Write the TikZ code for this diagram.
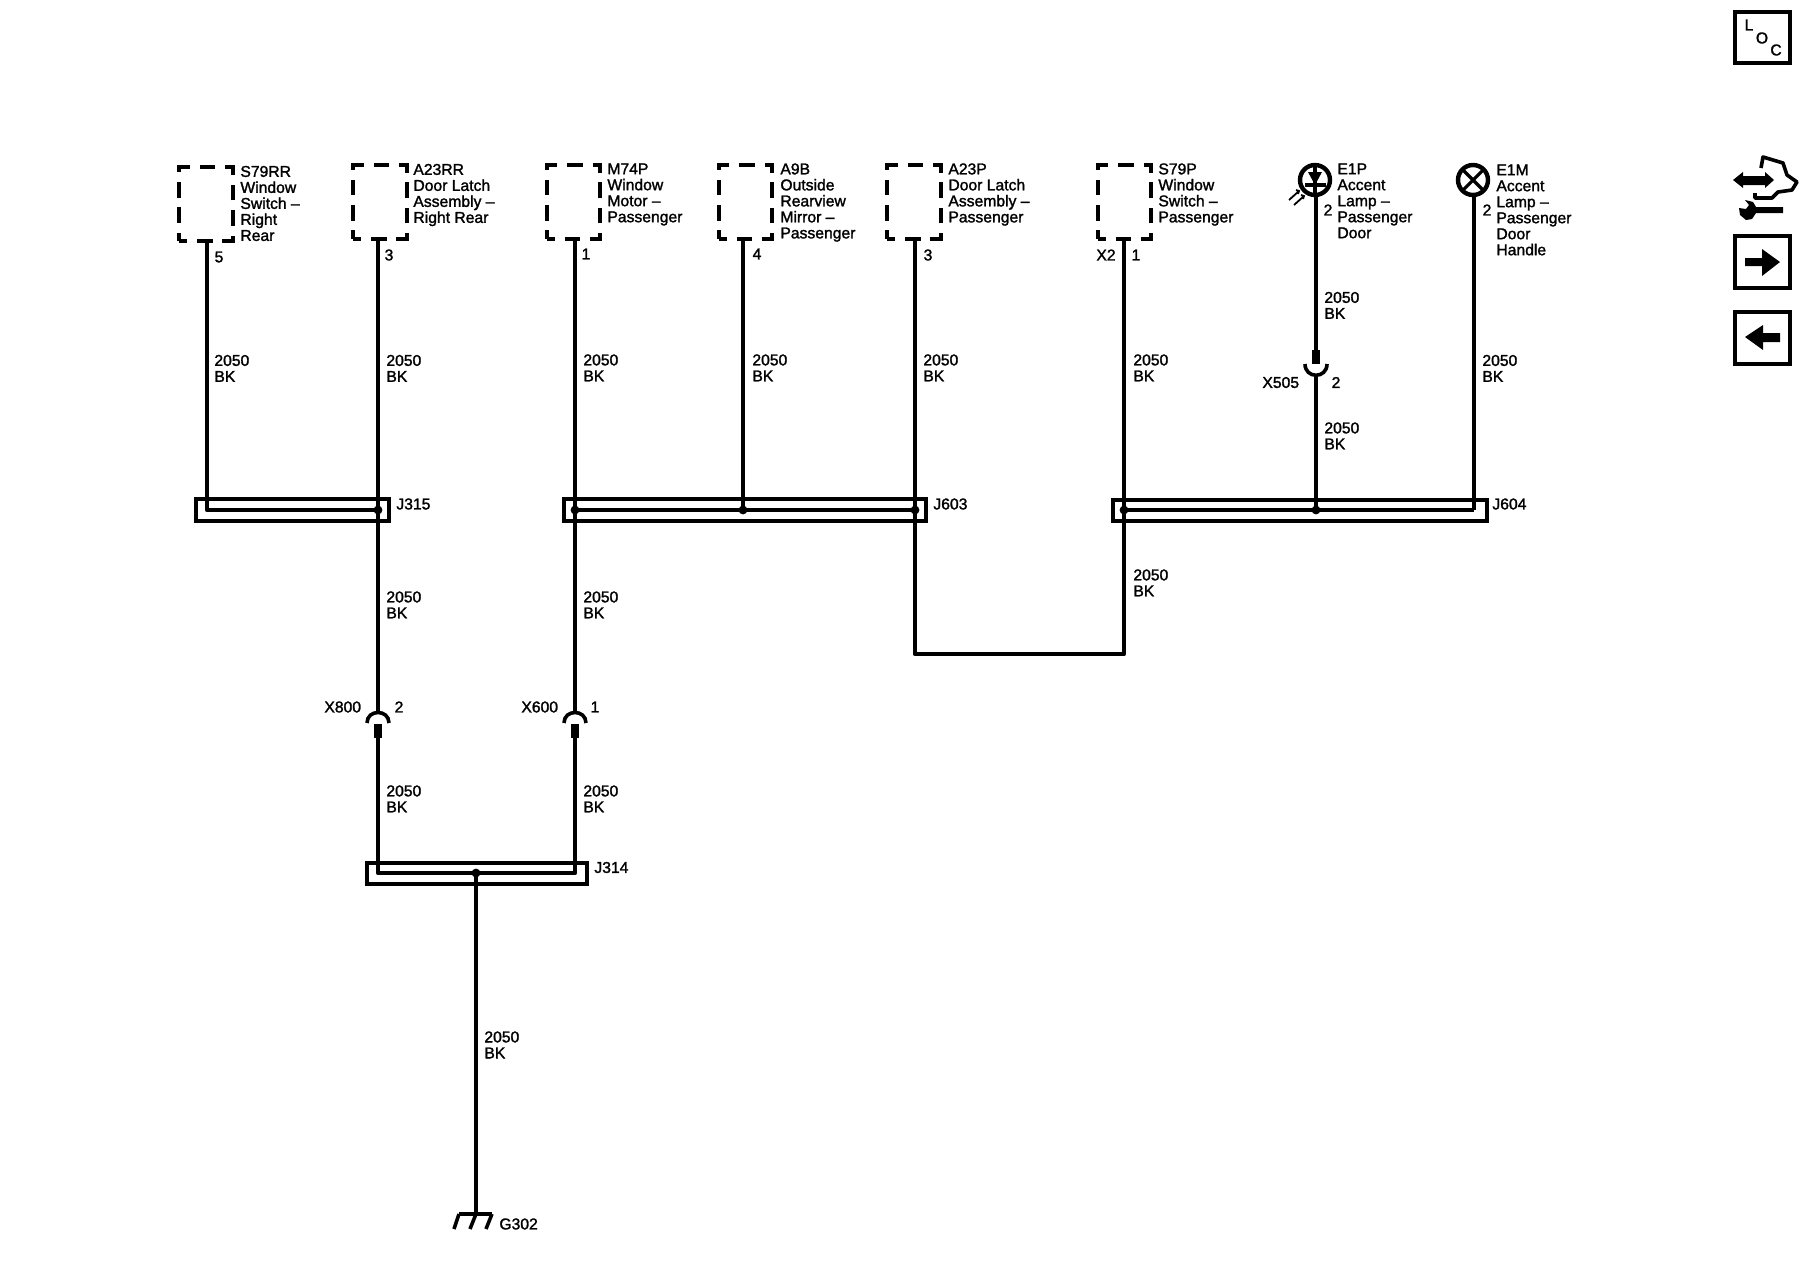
\documentclass[tikz,border=0pt]{standalone}
\usepackage{fontspec}
\setmainfont[FakeBold=1.6]{Liberation Sans}
\usetikzlibrary{positioning}
\tikzset{
	wire/.style={line width=2.1pt, line join=round},
	pinbar/.style={line width=4pt},
	comp/.style={draw, line width=2pt, dash pattern=on 7.8pt off 4.9pt, dash phase=3.9pt, minimum width=26.6pt, minimum height=37pt, inner sep=0pt, outer sep=0pt},
	splice/.style={draw, line width=2pt, minimum height=10.6pt, inner sep=0pt, outer sep=0pt},
	jdot/.style={circle, fill, minimum size=4.4pt, inner sep=0pt},
	lamp/.style={circle, draw, line width=2.2pt, minimum size=15pt, inner sep=0pt, outer sep=0pt},
	iconbox/.style={draw, line width=2pt, minimum width=27.5pt, minimum height=26pt, inner sep=0pt, outer sep=0pt},
	lbl/.style={font=\fontsize{7.85}{8}\selectfont, inner sep=0pt, align=left},
	multi/.style={lbl, anchor=north west},
	single/.style={lbl, anchor=west},
	pinnum/.style={lbl, anchor=center}
}
\begin{document}
\begin{tikzpicture}[x=0.5pt, y=-0.5pt]
	\useasboundingbox (0,0) rectangle (1800,1280);
	%% component boxes
	\node[comp] (s79rr) at (206,204) {};
	\node[comp] (a23rr) at (380,201.5) {};
	\node[comp] (m74p) at (573.5,201.5) {};
	\node[comp] (a9b) at (745.6,201.5) {};
	\node[comp] (a23p) at (914,201.5) {};
	\node[comp] (s79p) at (1124.5,201.5) {};
	\node[lamp] (e1p) at (1315,180) {};
	\node[lamp] (e1m) at (1473,180) {};
	\draw[line width=1.6pt] (e1m.45) -- (e1m.225) (e1m.135) -- (e1m.315);
	\draw[line width=1.6pt] (e1p.north) -- (e1p.south) (1305,185) -- (1326,185);
	\fill (1308,172) -- (1322,172) -- (1315,185) -- cycle;
	\draw[line width=0.9pt] (1299,191) -- (1289,200) (1304,196) -- (1294,205) (1296,190) -- (1299,191) -- (1298,194) (1301,195) -- (1304,196) -- (1303,199);
	%% splices
	\node[splice, minimum width=96.5pt] (j315) at (292,510) {};
	\node[splice, minimum width=181pt] (j603) at (744.5,510) {};
	\node[splice, minimum width=187pt] (j604) at (1299.5,510.5) {};
	\node[splice, minimum width=110pt] (j314) at (476.5,873.5) {};
	\coordinate (j315l) at (207,510);
	\coordinate (j315r) at (378,510);
	\coordinate (j603l) at (575,510);
	\coordinate (j603m) at (743,510);
	\coordinate (j603r) at (915,510);
	\coordinate (j604l) at (1124,510);
	\coordinate (j604m) at (1316,510);
	\coordinate (j604r) at (1474,510);
	\coordinate (j314l) at (378,873);
	\coordinate (j314m) at (476,873);
	\coordinate (j314r) at (575,873);
	\coordinate (botl) at (915,654);
	\coordinate (botr) at (1124,654);
	\coordinate (g302) at (476,1214);
	\coordinate (x800) at (378,713);
	\coordinate (x800p) at (378,724);
	\coordinate (x800q) at (378,738);
	\coordinate (x600) at (575,713);
	\coordinate (x600p) at (575,724);
	\coordinate (x600q) at (575,738);
	\coordinate (x505) at (1316,375);
	\coordinate (x505p) at (1316,364);
	\coordinate (x505q) at (1316,350);
	%% wires
	\draw[wire] (s79rr.south -| j315l) -- (j315l) -- (j315r);
	\draw[wire] (a23rr.south -| j315r) -- (j315r) -- (x800);
	\draw[wire] (m74p.south -| j603l) -- (j603l) -- (x600);
	\draw[wire] (j603l) -- (j603r);
	\draw[wire] (a9b.south -| j603m) -- (j603m);
	\draw[wire] (a23p.south -| j603r) -- (j603r) -- (botl) -- (botr) -- (j604l);
	\draw[wire] (s79p.south -| j604l) -- (j604l) -- (j604r);
	\draw[wire] (e1p.south -| x505q) -- (x505q);
	\draw[wire] (x505) -- (j604m);
	\draw[wire] (e1m.south -| j604r) -- (j604r);
	\draw[wire] (x800q) -- (j314l) -- (j314r) -- (x600q);
	\draw[wire] (j314m) -- (g302);
	%% connectors
	\draw[pinbar] (x800p) -- (x800q);
	\draw[pinbar] (x600p) -- (x600q);
	\draw[pinbar] (x505p) -- (x505q);
	\draw[line width=1.8pt] (367,723) .. controls (367,709) and (389,709) .. (389,723);
	\draw[line width=1.8pt] (564,723) .. controls (564,709) and (586,709) .. (586,723);
	\draw[line width=1.8pt] (1305,364) .. controls (1305,379) and (1327,379) .. (1327,364);
	\node[jdot] (d1) at (j315r) {};
	\node[jdot] (d2) at (j603l) {};
	\node[jdot] (d3) at (j603m) {};
	\node[jdot] (d4) at (j603r) {};
	\node[jdot] (d5) at (j604l) {};
	\node[jdot] (d6) at (j604m) {};
	\node[jdot] (d7) at (j314m) {};
	%% ground
	\draw[wire] (459,1214) -- (492,1214);
	\draw[line width=1.8pt] (459,1214) -- ++(-5,15) (476,1214) -- ++(-6,15) (492,1214) -- ++(-6,15);
	%% labels
	\node[multi] (s79rrl) at (240,165.5) {S79RR\\Window\\Switch --\\Right\\Rear};
	\node[multi] (a23rrl) at (413,163.5) {A23RR\\Door Latch\\Assembly --\\Right Rear};
	\node[multi] (m74pl) at (607,163) {M74P\\Window\\Motor --\\Passenger};
	\node[multi] (a9bl) at (780,163) {A9B\\Outside\\Rearview\\Mirror --\\Passenger};
	\node[multi] (a23pl) at (948,163) {A23P\\Door Latch\\Assembly --\\Passenger};
	\node[multi] (s79pl) at (1158,163) {S79P\\Window\\Switch --\\Passenger};
	\node[multi] (e1pl) at (1337,163) {E1P\\Accent\\Lamp --\\Passenger\\Door};
	\node[multi] (e1ml) at (1496,164) {E1M\\Accent\\Lamp --\\Passenger\\Door\\Handle};
	\node[pinnum] (p1) at (219,257) {5};
	\node[pinnum] (p2) at (389,255) {3};
	\node[pinnum] (p3) at (586,254) {1};
	\node[pinnum] (p4) at (757,254) {4};
	\node[pinnum] (p5) at (928,255) {3};
	\node[pinnum] (p6) at (1106,255) {X2};
	\node[pinnum] (p7) at (1136,255) {1};
	\node[pinnum] (p8) at (1328,210) {2};
	\node[pinnum] (p9) at (1487,210) {2};
	\node[multi] (w1) at (214,354.5) {2050\\BK};
	\node[multi] (w2) at (386,354.5) {2050\\BK};
	\node[multi] (w3) at (583,354) {2050\\BK};
	\node[multi] (w4) at (752,354) {2050\\BK};
	\node[multi] (w5) at (923,354) {2050\\BK};
	\node[multi] (w6) at (1133,354) {2050\\BK};
	\node[multi] (w7) at (1324,291.5) {2050\\BK};
	\node[multi] (w8) at (1324,422) {2050\\BK};
	\node[multi] (w9) at (1482,354.5) {2050\\BK};
	\node[multi] (w10) at (386,591) {2050\\BK};
	\node[multi] (w11) at (583,591) {2050\\BK};
	\node[multi] (w12) at (1133,569) {2050\\BK};
	\node[multi] (w13) at (386,785) {2050\\BK};
	\node[multi] (w14) at (583,785) {2050\\BK};
	\node[multi] (w15) at (484,1031) {2050\\BK};
	\node[single] (j315n) at (396,504) {J315};
	\node[single] (j603n) at (933,504) {J603};
	\node[single] (j604n) at (1492,504) {J604};
	\node[single] (j314n) at (594,867.5) {J314};
	\node[single] (x800n) at (324,707) {X800};
	\node[pinnum] (x800m) at (399,707) {2};
	\node[single] (x600n) at (521,707) {X600};
	\node[pinnum] (x600m) at (595,707) {1};
	\node[single] (x505n) at (1262,382.5) {X505};
	\node[pinnum] (x505m) at (1336,382.5) {2};
	\node[single] (g302n) at (499,1224) {G302};
	%% side icons
	\node[iconbox, minimum height=25.5pt] (locb) at (1762.5,37.5) {};
	\node[pinnum] (locl) at (1749,25) {L};
	\node[pinnum] (loco) at (1762,38) {O};
	\node[pinnum] (locc) at (1776,50) {C};
	\node[iconbox] (nextb) at (1762.5,262) {};
	\node[iconbox] (prevb) at (1762.5,337.5) {};
	\fill (1745,258) -- (1762,258) -- (1762,249) -- (1780,262) -- (1762,276) -- (1762,266) -- (1745,266) -- cycle;
	\fill (1780,333) -- (1763,333) -- (1763,325) -- (1745,337) -- (1763,350) -- (1763,342) -- (1780,342) -- cycle;
	\fill (1733,180) -- (1743,172) -- (1743,176) -- (1765,176) -- (1765,172) -- (1774,180) -- (1765,188) -- (1765,185) -- (1743,185) -- (1743,188) -- cycle;
	\draw[line width=1.8pt, line join=round] (1755,193) -- (1755,198) -- (1772,198) -- (1778,192) -- (1792,190) -- (1797,182) -- (1787,175) -- (1783,163) -- (1763,157) -- (1761,168);
	\fill (1783,207) -- (1756,207) -- (1753,202) -- (1745,200) -- (1749,205) -- (1746,209) -- (1739,208) -- (1740,215) -- (1746,220) -- (1752,219) -- (1756,213) -- (1783,213) -- cycle;
\end{tikzpicture}
\end{document}
